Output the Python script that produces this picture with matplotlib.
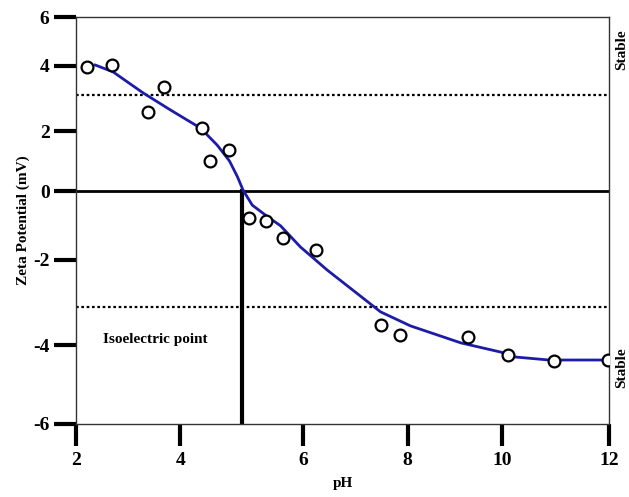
import numpy as np
import matplotlib
matplotlib.use("Agg")
import matplotlib.pyplot as plt

plt.rcParams['font.family'] = 'Liberation Serif'
plt.rcParams['font.weight'] = 'bold'
plt.rcParams['axes.labelweight'] = 'bold'
plt.rcParams['axes.unicode_minus'] = False

# measured points (pH, zeta potential)
ph_pts = [2.22, 2.69, 3.38, 3.68, 4.35, 4.48, 4.79, 5.11, 5.40, 5.67, 6.25,
          7.48, 7.85, 9.28, 10.11, 10.97, 11.98]
zeta_pts = [3.98, 4.04, 2.59, 3.36, 2.08, 1.01, 1.37, -0.78, -0.87, -1.36, -1.71,
            -3.53, -3.76, -3.81, -4.25, -4.41, -4.38]

# fitted curve
ph_fit = [2.37, 2.71, 3.29, 3.81, 4.33, 4.60, 4.80, 4.93, 5.02, 5.17, 5.40, 5.63, 5.95,
          6.46, 6.96, 7.48, 8.06, 9.13, 9.98, 10.22, 10.88, 11.98]
zeta_fit = [4.04, 3.82, 3.17, 2.65, 2.09, 1.53, 1.00, 0.47, 0.03, -0.41, -0.72, -1.01, -1.62,
            -2.24, -2.72, -3.22, -3.55, -3.95, -4.18, -4.30, -4.38, -4.38]

stable_lim = 3.1
iep = 5.0

xticks = [2, 4, 6, 8, 10, 12]
yticks = [-6, -4, -2, 0, 2, 4, 6]
# the original axes are unevenly spaced, so calibrate them tick by tick
xtick_pos = [76, 180, 303, 407, 501, 608]
ytick_pos = [-424, -345, -260, -191, -131, -66, -17]


def fx(v):
    return np.interp(v, xticks, xtick_pos)


def fx_inv(p):
    return np.interp(p, xtick_pos, xticks)


def fy(v):
    return np.interp(v, yticks, ytick_pos)


def fy_inv(p):
    return np.interp(p, ytick_pos, yticks)


fig = plt.figure(figsize=(6.29, 4.97), dpi=100)
ax = fig.add_axes([76/629, 73/497, 533/629, 407/497])
ax.set_xscale('function', functions=(fx, fx_inv))
ax.set_yscale('function', functions=(fy, fy_inv))
ax.set_xlim(2, 12.02)
ax.set_ylim(-6, 6)

ax.axhline(0, color='black', lw=2, zorder=2)
ax.axhline(stable_lim, color='black', lw=1.6, ls=(0, (1.2, 1.2)), zorder=2)
ax.axhline(-stable_lim, color='black', lw=1.6, ls=(0, (1.2, 1.2)), zorder=2)
ax.plot([iep, iep], [-6, 0], color='black', lw=3, zorder=2)

ax.plot(ph_fit, zeta_fit, color='#1c1ca8', lw=2, zorder=3)
ax.plot(ph_pts, zeta_pts, 'o', mfc='white', mec='black', mew=1.6, ms=8.5, zorder=4)

ax.set_xticks(xticks)
ax.set_yticks(yticks)
ax.tick_params(direction='out', length=16, width=3, labelsize=14, color='black')
ax.tick_params(axis='x', pad=4)
ax.tick_params(axis='y', pad=3)
for s in ax.spines.values():
    s.set_linewidth(1)
    s.set_color('#333333')

ax.set_xlabel('pH', fontsize=11, labelpad=6)
ax.set_ylabel('Zeta Potential (mV)', fontsize=11, labelpad=2)

ax.text(2.52, -3.86, 'Isoelectric point', fontsize=11, va='center', ha='left')
fig.text(622/629, 1 - 50/497, 'Stable', rotation=90, fontsize=11, ha='center', va='center')
fig.text(622/629, 1 - 368/497, 'Stable', rotation=90, fontsize=11, ha='center', va='center')

fig.savefig('out.png', dpi=100)
